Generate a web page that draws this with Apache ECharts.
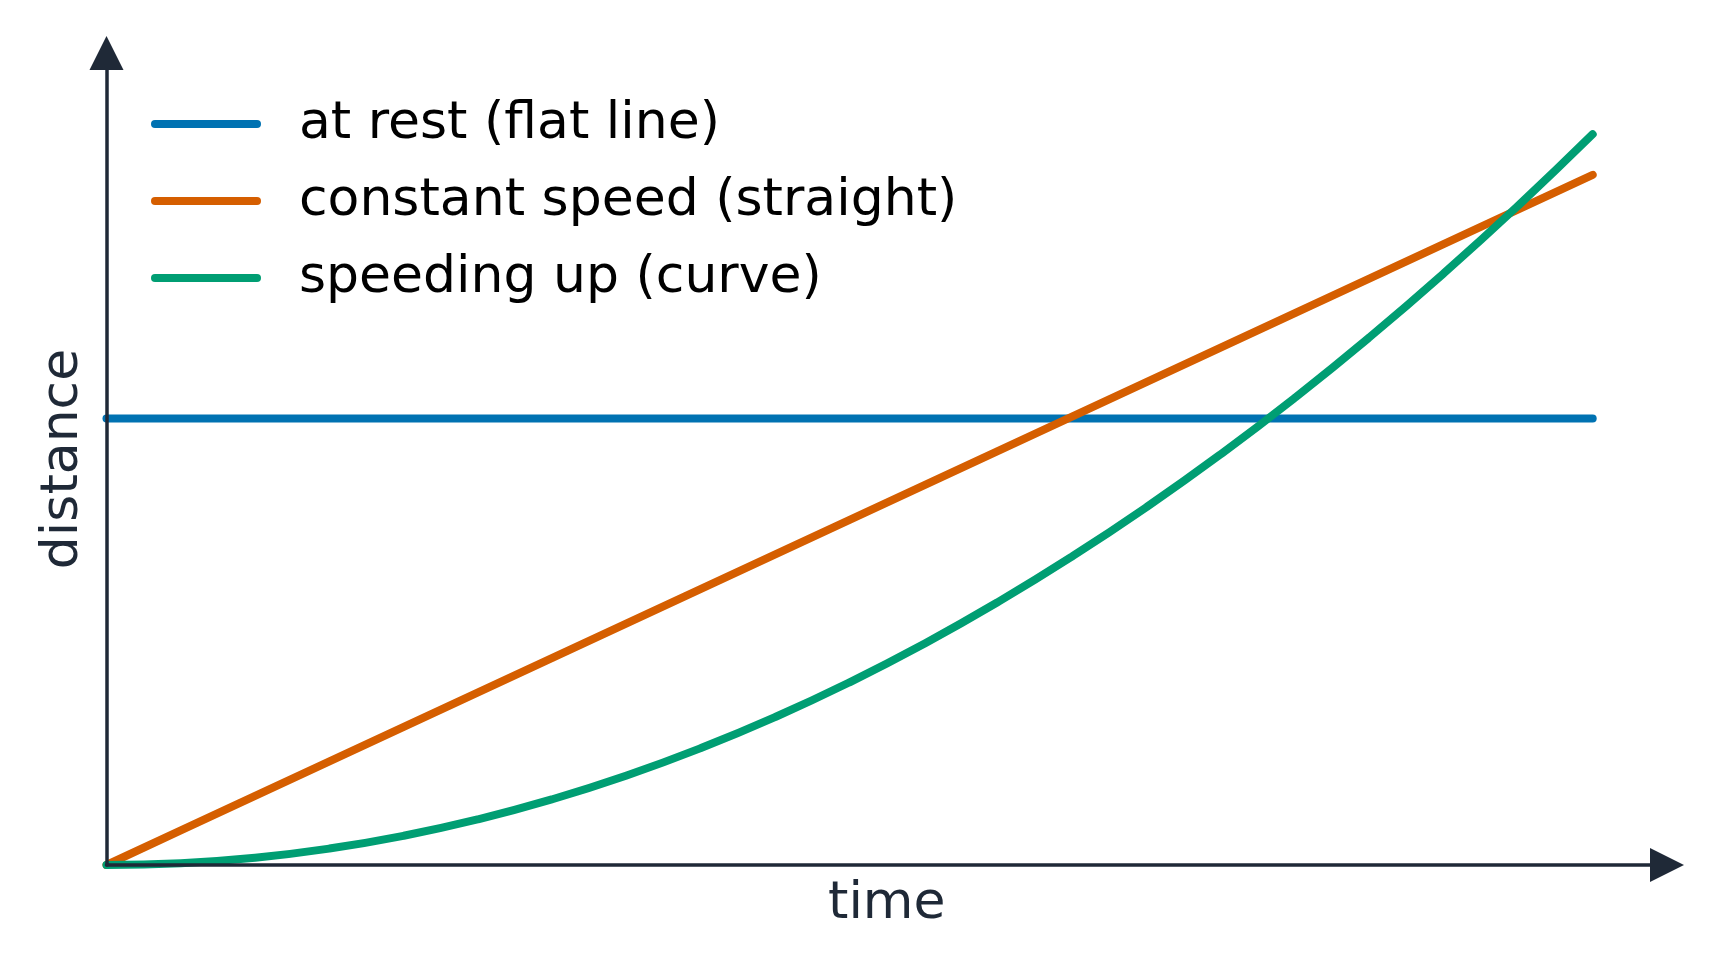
<!DOCTYPE html>
<html>
<head>
<meta charset="utf-8">
<script src="https://cdn.jsdelivr.net/npm/echarts@6/dist/echarts.min.js"></script>
<style>
html,body{margin:0;padding:0;background:#fff;}
#chart{width:1721px;height:972px;}
</style>
</head>
<body>
<div id="chart"></div>
<script>
// time values (x)
const timeValues = [0, 0.5, 1, 1.5, 2, 2.5, 3, 3.5, 4, 4.5, 5, 5.5, 6, 6.5, 7, 7.5, 8, 8.5, 9, 9.5, 10];
// distance values for each series
const atRest = [5.5, 5.5, 5.5, 5.5, 5.5, 5.5, 5.5, 5.5, 5.5, 5.5, 5.5, 5.5, 5.5, 5.5, 5.5, 5.5, 5.5, 5.5, 5.5, 5.5, 5.5];
const constantSpeed = [0, 0.425, 0.85, 1.275, 1.7, 2.125, 2.55, 2.975, 3.4, 3.825, 4.25, 4.675, 5.1, 5.525, 5.95, 6.375, 6.8, 7.225, 7.65, 8.075, 8.5];
const speedingUp = [0, 0.0225, 0.09, 0.2025, 0.36, 0.5625, 0.81, 1.1025, 1.44, 1.8225, 2.25, 2.7225, 3.24, 3.8025, 4.41, 5.0625, 5.76, 6.5025, 7.29, 8.1225, 9.0];
const seriesNames = ['at rest (flat line)', 'constant speed (straight)', 'speeding up (curve)'];
const seriesColors = ['#0072B2', '#D55E00', '#009E73'];
const xName = 'time';
const yName = 'distance';

function pairs(ys) { return timeValues.map((t, i) => [t, ys[i]]); }

const axisColor = '#1f2937';
const FONT = 'DejaVu Sans';

const chart = echarts.init(document.getElementById('chart'), null, {renderer: 'canvas'});
const allData = [atRest, constantSpeed, speedingUp];

chart.setOption({
  backgroundColor: '#ffffff',
  animation: false,
  grid: {left: 106.5, top: 53, right: 54, bottom: 107, containLabel: false},
  legend: {
    orient: 'vertical',
    left: 151,
    top: 98,
    padding: 0,
    itemGap: 25,
    itemWidth: 102,
    itemHeight: 14,
    itemStyle: {opacity: 0},
    lineStyle: {width: 'inherit', cap: 'round'},
    textStyle: {fontFamily: FONT, fontSize: 52, color: '#000000', lineHeight: 52, padding: [0, 0, 0, 37]},
    data: seriesNames
  },
  xAxis: {
    type: 'value', min: 0, max: 10.5, z: 5,
    name: xName, nameLocation: 'middle', nameGap: 13,
    nameTextStyle: {fontFamily: FONT, fontSize: 52, color: axisColor},
    axisLine: {show: true, onZero: false, symbol: ['none', 'triangle'], symbolSize: [34, 34],
      lineStyle: {color: axisColor, width: 3.5}},
    axisTick: {show: false}, axisLabel: {show: false}, splitLine: {show: false}
  },
  yAxis: {
    type: 'value', min: 0, max: 10, z: 5,
    name: yName, nameLocation: 'middle', nameGap: 17,
    nameTextStyle: {fontFamily: FONT, fontSize: 52, color: axisColor},
    axisLine: {show: true, onZero: false, symbol: ['none', 'triangle'], symbolSize: [34, 34],
      lineStyle: {color: axisColor, width: 3.5}},
    axisTick: {show: false}, axisLabel: {show: false}, splitLine: {show: false}
  },
  series: seriesNames.map((name, i) => ({
    name: name,
    type: 'line',
    data: pairs(allData[i]),
    smooth: i === 2,
    symbol: 'none',
    showSymbol: false,
    color: seriesColors[i],
    lineStyle: {color: seriesColors[i], width: 8, cap: 'round', join: 'round'},
    z: 2
  }))
});
</script>
</body>
</html>
